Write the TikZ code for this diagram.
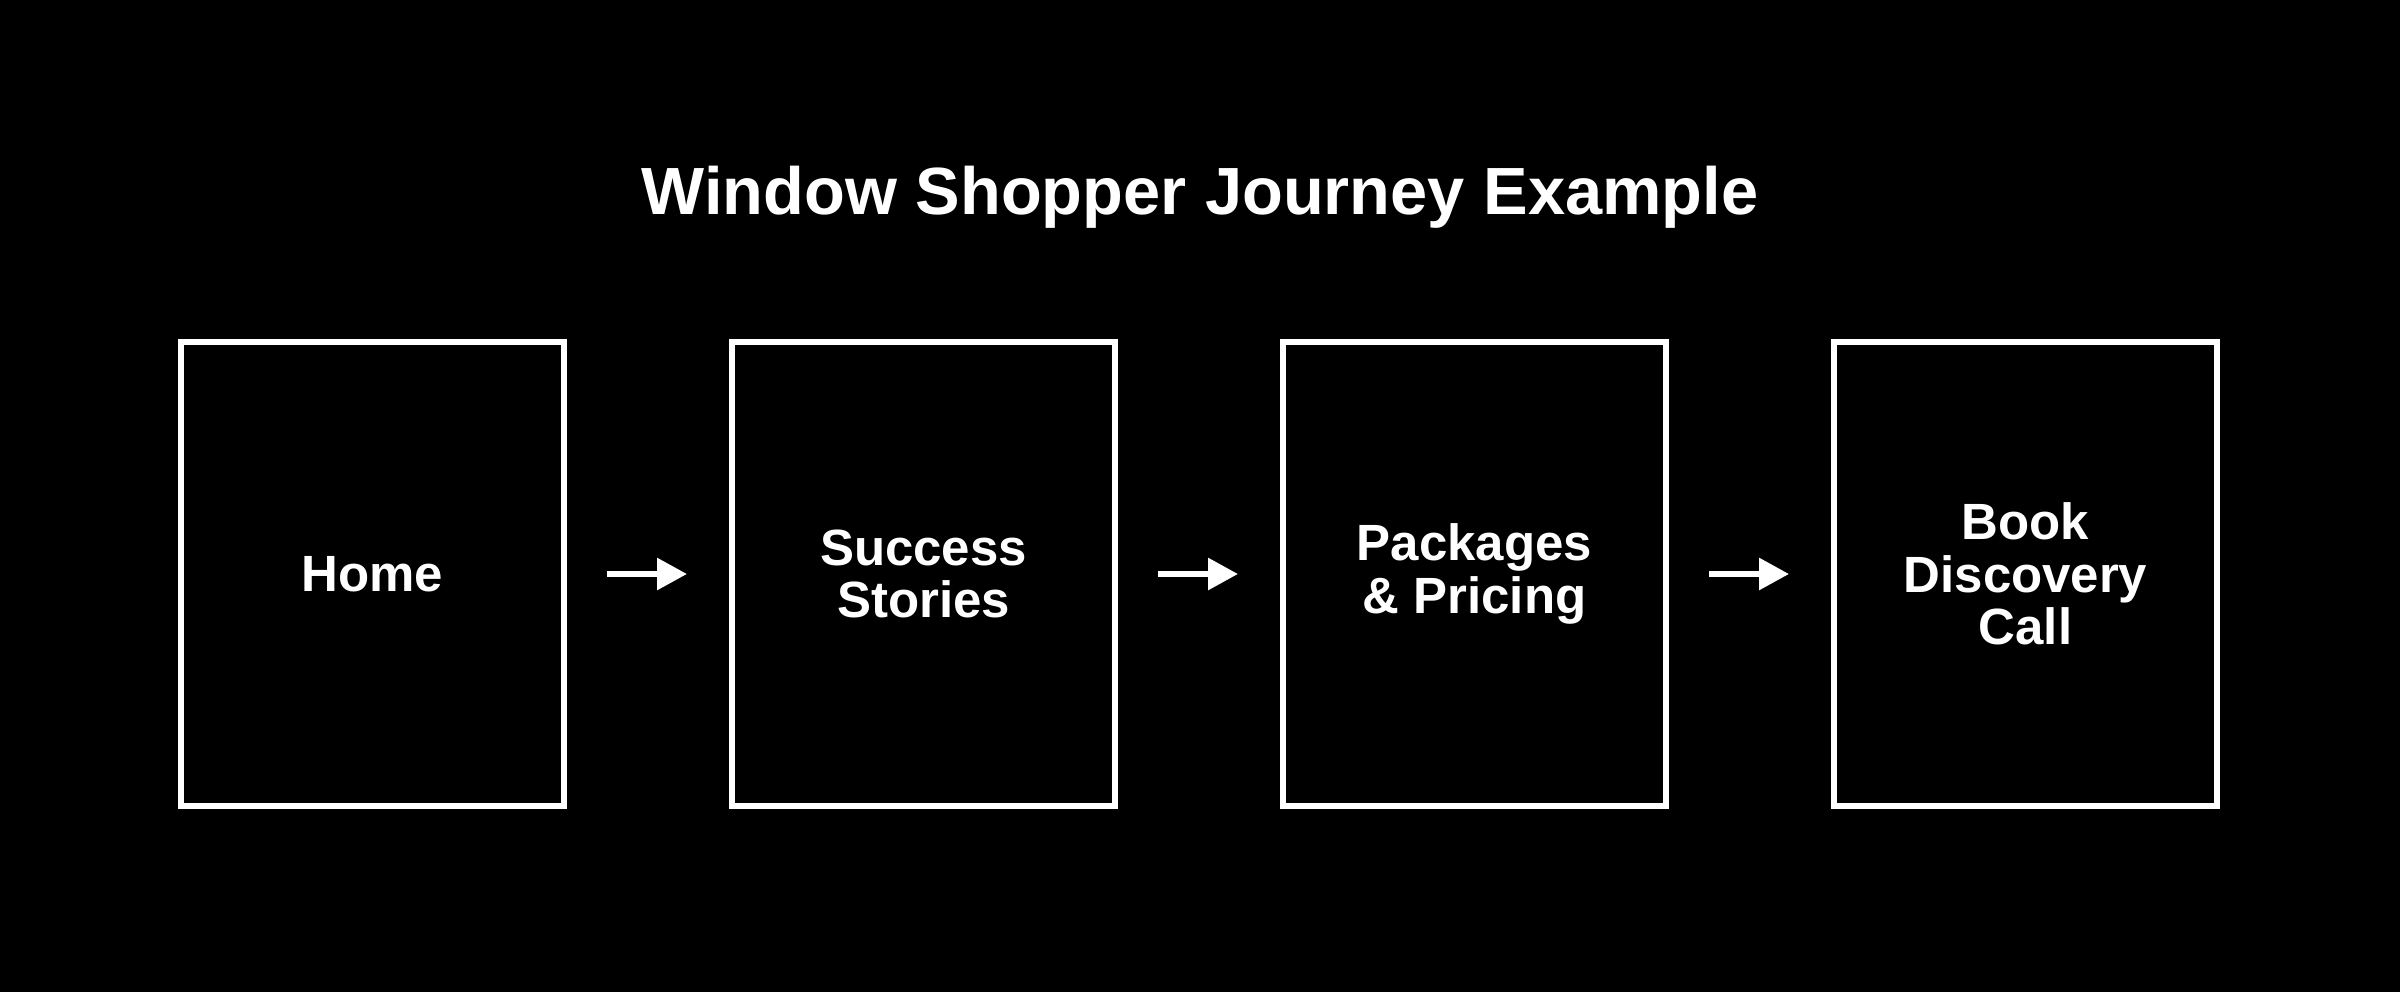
\documentclass[tikz,border=0pt]{standalone}
\usepackage{fontspec}
\setmainfont{Liberation Sans}
\usetikzlibrary{arrows.meta, positioning}

\begin{document}
\begin{tikzpicture}[
  node distance=1.62cm,
  page/.style={rectangle, draw=white, line width=0.06cm, minimum width=3.83cm, minimum height=4.64cm, align=center, text=white, font=\fontsize{14.5}{15}\selectfont\bfseries},
  arrow/.style={-{Triangle[length=0.3cm, width=0.31cm]}, line width=0.06cm, color=white, shorten <=0.4cm, shorten >=0.42cm}
]
  \fill[black] (0,0) rectangle (24,9.92);
  \useasboundingbox (0,0) rectangle (24,9.92);

  \node[text=white, font=\fontsize{19}{23}\selectfont\bfseries] (title) at (12,7.95) {Window Shopper Journey Example};

  \node[page] (home) at (3.725,4.18) {Home};
  \node[page, right=of home] (stories) {Success\\Stories};
  \node[page, right=of stories] (pricing) {Packages\\\& Pricing};
  \node[page, right=of pricing] (call) {Book\\Discovery\\Call};

  \draw[arrow] (home) -- (stories);
  \draw[arrow] (stories) -- (pricing);
  \draw[arrow] (pricing) -- (call);

\end{tikzpicture}
\end{document}
